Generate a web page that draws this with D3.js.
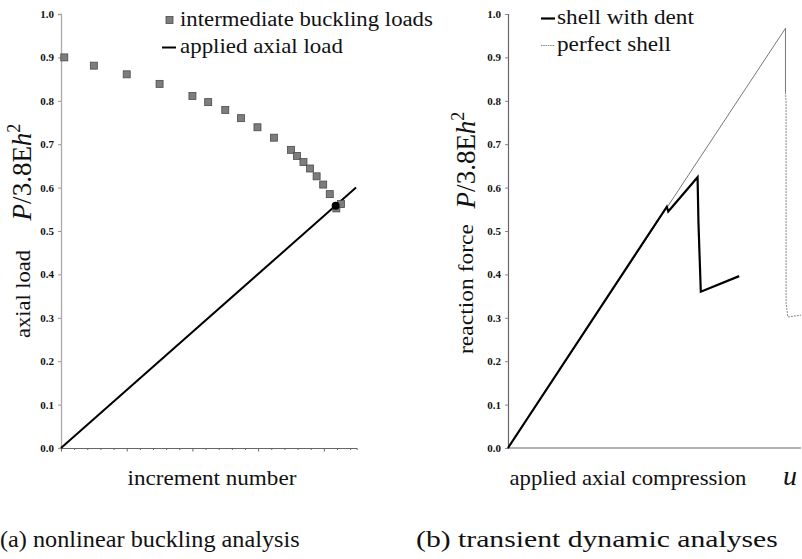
<!DOCTYPE html>
<html>
<head>
<meta charset="utf-8">
<title>buckling loads</title>
<script src="https://cdn.jsdelivr.net/npm/d3@7"></script>
<style>
  body { margin: 0; background: #fff; }
</style>
</head>
<body>
<svg id="chart" width="802" height="559" font-family="Liberation Serif"></svg>
<script>
// (a) intermediate buckling loads: increment number vs P/3.8Eh^2
var incr = [0.25, 2.5, 5, 7.5, 10, 11.2, 12.5, 13.7, 14.95, 16.2, 17.5, 17.95, 18.45, 18.95, 19.45, 19.95, 20.45, 20.95, 21.3];
var buckLoad = [0.900, 0.881, 0.861, 0.839, 0.811, 0.797, 0.779, 0.760, 0.739, 0.715, 0.687, 0.673, 0.659, 0.644, 0.626, 0.607, 0.585, 0.552, 0.562];
var appliedX = [0, 22.45];
var appliedY = [0, 0.600];
var critPoint = [20.9, 0.558];

// (b) reaction force vs applied axial compression (u, unitless)
var dentU = [0, 0.542, 0.547, 0.647, 0.650, 0.658, 0.789];
var dentP = [0, 0.556, 0.545, 0.624, 0.52, 0.360, 0.396];
var perfU = [0, 0.947, 0.947];
var perfP = [0, 0.967, 0.82];
var perfDropU = [0.947, 0.949, 0.949, 0.955, 1.0];
var perfDropP = [0.82, 0.80, 0.335, 0.302, 0.306];

var yTicks = [0, 0.1, 0.2, 0.3, 0.4, 0.5, 0.6, 0.7, 0.8, 0.9, 1.0];

var svg = d3.select('#chart');

// text squeezed/stretched horizontally to a given width (in its own direction)
function label(x, y, str, size, width, opts) {
  opts = opts || {};
  var g = svg.append('g');
  var t = g.append('text').attr('font-size', size).attr('fill', '#111').text(str);
  if (opts.italic) t.attr('font-style', 'italic');
  var w = t.node().getComputedTextLength();
  var sx = width ? width / w : 1;
  var dx = opts.anchor === 'middle' ? -w / 2 : 0;
  t.attr('x', dx);
  g.attr('transform', 'translate(' + x + ',' + y + ')' + (opts.rotate ? ' rotate(-90)' : '') +
    ' scale(' + sx + ',1)');
  return t;
}

// ---------- left panel ----------
var xa = d3.scaleLinear().domain([0, 22.5]).range([61, 356.7]);
var ya = d3.scaleLinear().domain([0, 1]).range([448, 14]);

var axL = svg.append('g').attr('transform', 'translate(61,0)')
  .call(d3.axisLeft(ya).tickValues(yTicks).tickFormat(d3.format('.1f')).tickSize(3).tickPadding(4));
axL.select('.domain').attr('stroke', '#aaa').attr('stroke-width', 1.3);
axL.selectAll('.tick line').attr('stroke', '#999');

var axB = svg.append('g').attr('transform', 'translate(0,448)')
  .call(d3.axisBottom(xa).tickValues(d3.range(0, 23)).tickFormat('').tickSizeOuter(0)
    .tickSize(2));
axB.select('.domain').attr('stroke', '#666');
axB.selectAll('.tick line').attr('stroke', '#666')
  .attr('y2', function (d) { return d % 5 === 0 ? 3.5 : 2; });

svg.append('path')
  .datum(d3.zip(appliedX, appliedY))
  .attr('d', d3.line().x(function (d) { return xa(d[0]); }).y(function (d) { return ya(d[1]); }))
  .attr('fill', 'none').attr('stroke', '#000').attr('stroke-width', 2);

svg.append('g').selectAll('rect')
  .data(d3.zip(incr, buckLoad))
  .enter().append('rect')
  .attr('x', function (d) { return xa(d[0]) - 3.5; })
  .attr('y', function (d) { return ya(d[1]) - 3.5; })
  .attr('width', 7).attr('height', 7)
  .attr('fill', '#7d7d7d').attr('stroke', '#4a4a4a').attr('stroke-width', 0.8);

svg.append('circle')
  .attr('cx', xa(critPoint[0])).attr('cy', ya(critPoint[1])).attr('r', 4)
  .attr('fill', '#000');

// legend (a)
svg.append('rect').attr('x', 166).attr('y', 16.5).attr('width', 7).attr('height', 7)
  .attr('fill', '#7d7d7d').attr('stroke', '#4a4a4a').attr('stroke-width', 0.8);
label(180, 26, 'intermediate buckling loads', 20, 253);
svg.append('line').attr('x1', 162).attr('x2', 176).attr('y1', 47.5).attr('y2', 47.5)
  .attr('stroke', '#000').attr('stroke-width', 2);
label(180, 53, 'applied axial load', 20, 163);

function pLabel(cx, cy) {
  var t = svg.append('text')
    .attr('transform', 'translate(' + cx + ',' + cy + ') rotate(-90)')
    .attr('text-anchor', 'middle').attr('font-size', 27).attr('fill', '#111');
  t.append('tspan').attr('font-style', 'italic').text('P');
  t.append('tspan').text('/3.8E');
  t.append('tspan').attr('font-style', 'italic').text('h');
  t.append('tspan').attr('font-size', 18).attr('dy', -11).text('2');
}
pLabel(31, 172);
label(30, 294, 'axial load', 20, 88, { rotate: true, anchor: 'middle' });

label(212, 485, 'increment number', 20, 169, { anchor: 'middle' });

// ---------- right panel ----------
var xb = d3.scaleLinear().domain([0, 1]).range([508, 801]);
var yb = d3.scaleLinear().domain([0, 1]).range([448, 14]);

var axR = svg.append('g').attr('transform', 'translate(508,0)')
  .call(d3.axisLeft(yb).tickValues(yTicks).tickFormat(d3.format('.1f')).tickSize(3).tickPadding(4));
axR.select('.domain').attr('stroke', '#666').attr('stroke-width', 1.2);
axR.selectAll('.tick line').attr('stroke', '#888');

svg.append('line').attr('x1', xb(0)).attr('x2', xb(1)).attr('y1', yb(0)).attr('y2', yb(0))
  .attr('stroke', '#666').attr('stroke-width', 1.2);

var lineB = d3.line().x(function (d) { return xb(d[0]); }).y(function (d) { return yb(d[1]); });

svg.append('path').datum(d3.zip(perfU, perfP)).attr('d', lineB)
  .attr('fill', 'none').attr('stroke', '#555').attr('stroke-width', 0.8);
svg.append('path').datum(d3.zip(perfDropU, perfDropP)).attr('d', lineB)
  .attr('fill', 'none').attr('stroke', '#777').attr('stroke-width', 0.9)
  .attr('stroke-dasharray', '2,1');
svg.append('path').datum(d3.zip(dentU, dentP)).attr('d', lineB)
  .attr('fill', 'none').attr('stroke', '#000').attr('stroke-width', 2.2)
  .attr('stroke-linejoin', 'miter');

// legend (b)
svg.append('line').attr('x1', 541).attr('x2', 555).attr('y1', 18.5).attr('y2', 18.5)
  .attr('stroke', '#000').attr('stroke-width', 2.2);
label(557, 23.5, 'shell with dent', 20, 137);
svg.append('line').attr('x1', 541).attr('x2', 555).attr('y1', 45.5).attr('y2', 45.5)
  .attr('stroke', '#777').attr('stroke-width', 0.9).attr('stroke-dasharray', '1.5,0.8');
label(557, 51, 'perfect shell', 20, 114);

pLabel(475, 160);
label(473, 289, 'reaction force', 20, 130, { rotate: true, anchor: 'middle' });

label(628, 485, 'applied axial compression', 20, 237, { anchor: 'middle' });
label(790, 485, 'u', 28, 0, { anchor: 'middle', italic: true });

// captions
label(0, 547, '(a) nonlinear buckling analysis', 23, 300);
label(416, 547, '(b) transient dynamic analyses', 23, 362);

// tick label font
svg.selectAll('.tick text').attr('font-family', 'Liberation Serif')
  .attr('font-size', 11).attr('font-weight', 'bold').attr('fill', '#111');
</script>
</body>
</html>
